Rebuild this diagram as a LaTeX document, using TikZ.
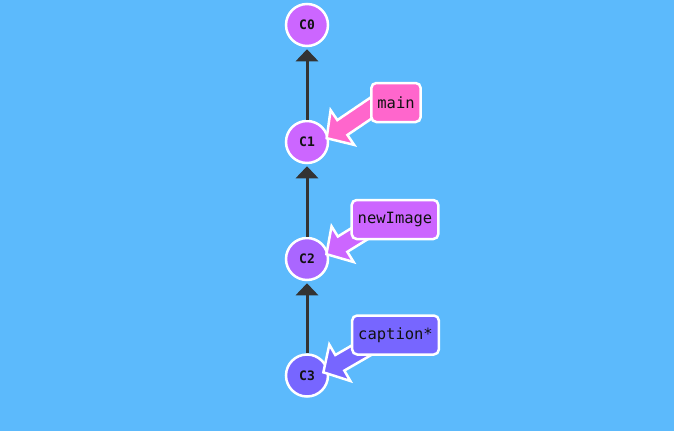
\documentclass[tikz,border=0pt]{standalone}
\usepackage{fontspec}
\setmonofont{DejaVu Sans Mono}
\usetikzlibrary{arrows.meta,calc}
\definecolor{bg}{HTML}{5CBAFC}
\definecolor{cA}{HTML}{CC66FF}
\definecolor{cB}{HTML}{AA66FF}
\definecolor{cC}{HTML}{7766FF}
\definecolor{pinkb}{HTML}{FF66CC}
\definecolor{edgec}{HTML}{333333}
\definecolor{txt}{HTML}{111111}
\tikzset{
  commit/.style={circle, draw=white, line width=2.5pt, minimum size=42pt, inner sep=0pt,
    font=\ttfamily\bfseries\fontsize{13}{15}\selectfont, text=txt},
  branchbox/.style={rectangle, rounded corners=5pt, draw=white, line width=2.5pt,
    minimum height=39pt, inner xsep=6pt, font=\ttfamily\fontsize{15.5}{18}\selectfont, text=txt},
  parentedge/.style={draw=edgec, line width=3pt, -{Triangle[width=22pt,length=12pt]}, shorten >=2pt},
}
\newcommand\fatarrow[3]{%
  \path ($(#1)!19pt!(#2)$) coordinate (hb);
  \draw[fill=#3, draw=white, line width=2.5pt, line join=miter]
    (#1) -- ($(hb)!21pt!90:(#2)$) -- ($(hb)!9pt!90:(#2)$) -- ($(#2)!9pt!-90:(hb)$)
    -- ($(#2)!9pt!90:(hb)$) -- ($(hb)!9pt!-90:(#2)$) -- ($(hb)!21pt!-90:(#2)$) -- cycle;}
\begin{document}
\begin{tikzpicture}[x=1pt,y=-1pt]
  \fill[bg] (0,0) rectangle (674,431);
  \useasboundingbox (0,0) rectangle (674,431);
  % commits
  \node[commit, fill=cA] (C0) at (307,25) {C0};
  \node[commit, fill=cA] (C1) at (307,142) {C1};
  \node[commit, fill=cB] (C2) at (307,259) {C2};
  \node[commit, fill=cC] (C3) at (307,375.5) {C3};
  % parent edges
  \draw[parentedge] (C1) -- (C0);
  \draw[parentedge] (C2) -- (C1);
  \draw[parentedge] (C3) -- (C2);
  % branch box positions
  \path (396,102.5) coordinate (mainpos);
  \path (395,219.5) coordinate (newpos);
  \path (395.5,335) coordinate (cappos);
  % arrow tails and tips
  \coordinate (mainTail) at (380,102);
  \coordinate (newTail) at (372,226);
  \coordinate (capTail) at (374,343);
  \coordinate (mainTip) at ($(C1.center)!0.9!(C1.11)$);
  \coordinate (newTip) at ($(C2.center)!0.9!(C2.14)$);
  \coordinate (capTip) at ($(C3.center)!0.75!(C3.11)$);
  \fatarrow{mainTip}{mainTail}{pinkb}
  \fatarrow{newTip}{newTail}{cA}
  \fatarrow{capTip}{capTail}{cC}
  \node[branchbox, fill=pinkb] (main) at (mainpos) {main};
  \node[branchbox, fill=cA] (newImage) at (newpos) {newImage};
  \node[branchbox, fill=cC] (caption) at (cappos) {caption*};
\end{tikzpicture}
\end{document}
